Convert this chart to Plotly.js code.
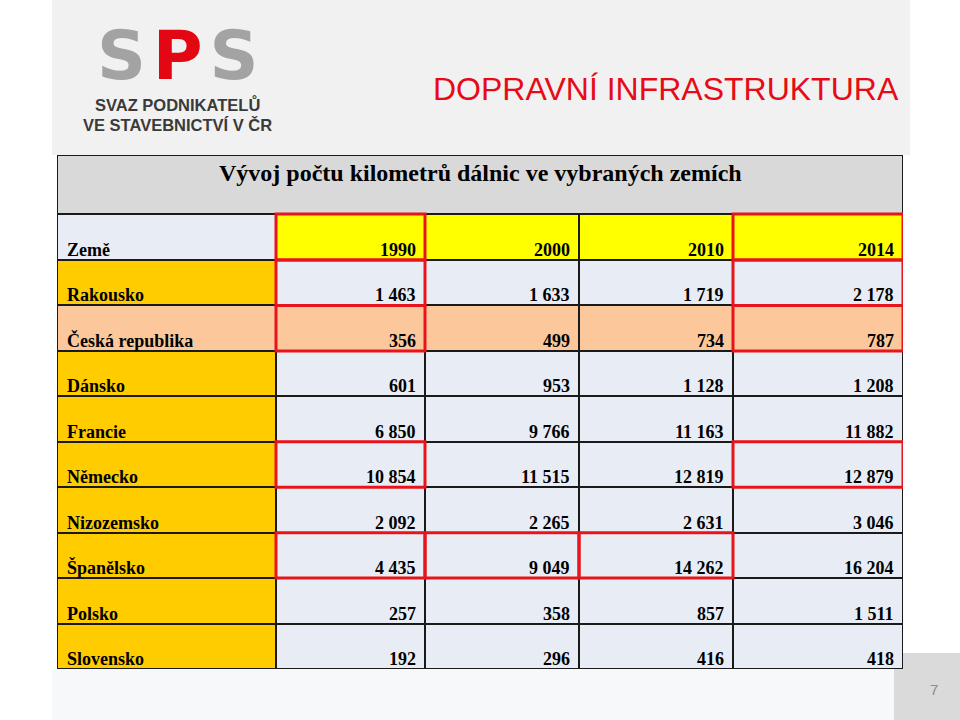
<!DOCTYPE html>
<html><head><meta charset="utf-8">
<script src="https://cdn.plot.ly/plotly-3.0.1.min.js"></script>
<style>html,body{margin:0;padding:0;background:#fff}#chart{width:960px;height:720px}</style>
</head><body><div id="chart"></div>
<script>
// ---------- data ----------
const countries = ["Rakousko","Česká republika","Dánsko","Francie","Německo","Nizozemsko","Španělsko","Polsko","Slovensko"];
const years = ["1990","2000","2010","2014"];
const km1990 = [1463, 356, 601, 6850, 10854, 2092, 4435, 257, 192];
const km2000 = [1633, 499, 953, 9766, 11515, 2265, 9049, 358, 296];
const km2010 = [1719, 734, 1128, 11163, 12819, 2631, 14262, 857, 416];
const km2014 = [2178, 787, 1208, 11882, 12879, 3046, 16204, 1511, 418];
const headerLabel = "Země";
const tableTitle = "Vývoj počtu kilometrů dálnic ve vybraných zemích";
const slideTitle = "DOPRAVNÍ INFRASTRUKTURA";
const orgLine1 = "SVAZ PODNIKATELŮ";
const orgLine2 = "VE STAVEBNICTVÍ V ČR";
const pageNumber = "7";
const emphasisCountry = "Česká republika";
// highlighted cells: [table row (0 = header row), year index]
const highlighted = [[0,0],[1,0],[2,0],[0,3],[1,3],[2,3],[5,0],[5,3],[7,0],[7,1],[7,2]];

// ---------- layout constants ----------
const L = 57, R = 903, T = 155, B = 669;
const colWidths = [219, 149, 154, 154, 170];
const titleH = 59, headerH = 46;
const series = [km1990, km2000, km2010, km2014];

const xEdges = [0];
colWidths.forEach(w => xEdges.push(xEdges[xEdges.length-1] + w));
const totalW = xEdges[xEdges.length-1];
const totalH = B - T;
const rowH = (totalH - titleH - headerH) / countries.length;
const yEdges = [titleH, titleH + headerH];
countries.forEach(() => yEdges.push(yEdges[yEdges.length-1] + rowH));

const fx = px => (px - L) / (R - L);
const fy = py => 1 - (py - T) / (B - T);

const fmt = v => String(v).replace(/\B(?=(\d{3})+(?!\d))/g, "\u00a0");

// colour codes: 0 light cell, 1 gold, 2 yellow, 3 peach
const cLight = '#e8edf5', cGold = '#ffcc00', cYellow = '#ffff00', cPeach = '#fcc89b';
const z = [[0, 2, 2, 2, 2]];
countries.forEach(c => {
  if (c === emphasisCountry) z.push([3,3,3,3,3]);
  else z.push([1,0,0,0,0]);
});

const traces = [
  { type:'heatmap', x:[0, totalW], y:[0, titleH], z:[[0]], zmin:0, zmax:1,
    colorscale:[[0,'#d9d9d9'],[1,'#d9d9d9']], showscale:false, hoverinfo:'skip', ygap:2 },
  { type:'heatmap', x:xEdges, y:yEdges, z:z, zmin:0, zmax:3,
    colorscale:[[0,cLight],[1/6,cLight],[1/6,cGold],[0.5,cGold],[0.5,cYellow],[5/6,cYellow],[5/6,cPeach],[1,cPeach]],
    showscale:false, hoverinfo:'skip', xgap:2, ygap:2 }
];

const cellFont = {family:'Liberation Serif, Times New Roman, serif', size:18, color:'#000'};
const annotations = [];
function cellText(text, row, col) {
  const bottom = Math.min(yEdges[row+1], totalH) - 0.01;
  const left = col === 0;
  annotations.push({
    xref:'x', yref:'y', x: left ? xEdges[col] + 8 : xEdges[col+1] - 7, y: bottom,
    xanchor: left ? 'left' : 'right', yanchor:'bottom', yshift:-2,
    text:'<b>' + text + '</b>', showarrow:false, font:cellFont
  });
}
cellText(headerLabel, 0, 0);
years.forEach((yr, j) => cellText(yr, 0, j+1));
countries.forEach((c, i) => {
  cellText(c, i+1, 0);
  series.forEach((s, j) => cellText(fmt(s[i]), i+1, j+1));
});

annotations.push({
  xref:'paper', yref:'y', x:fx(480), y:(titleH)/2 - 12, xanchor:'center', yanchor:'middle',
  text:'<b>' + tableTitle + '</b>', showarrow:false,
  font:{family:'Liberation Serif, Times New Roman, serif', size:24, color:'#000'}
});
annotations.push({
  xref:'paper', yref:'paper', x:fx(901), y:fy(89), xanchor:'right', yanchor:'middle',
  text:slideTitle, showarrow:false,
  font:{family:'Liberation Sans, Arial, sans-serif', size:32, color:'#e60b16'}
});
annotations.push({
  xref:'paper', yref:'paper', x:fx(177), y:fy(55), xanchor:'center', yanchor:'middle',
  text:'<b><span style="color:#a3a3a3">S</span>\u200a<span style="color:#e30613">P</span>\u200a<span style="color:#a3a3a3">S</span></b>',
  showarrow:false, font:{family:'DejaVu Sans, sans-serif', size:68, color:'#a3a3a3'}
});
annotations.push({
  xref:'paper', yref:'paper', x:fx(177), y:fy(105), xanchor:'center', yanchor:'middle',
  text:'<b>' + orgLine1 + '</b>', showarrow:false,
  font:{family:'Liberation Sans, Arial, sans-serif', size:16.5, color:'#3a3a3a'}
});
annotations.push({
  xref:'paper', yref:'paper', x:fx(177), y:fy(125), xanchor:'center', yanchor:'middle',
  text:'<b>' + orgLine2 + '</b>', showarrow:false,
  font:{family:'Liberation Sans, Arial, sans-serif', size:16.5, color:'#3a3a3a'}
});
annotations.push({
  xref:'paper', yref:'paper', x:fx(934), y:fy(689), xanchor:'center', yanchor:'middle',
  text:pageNumber, showarrow:false,
  font:{family:'Liberation Sans, Arial, sans-serif', size:15, color:'#8c8c8c'}
});

const shapes = [
  {type:'rect', xref:'paper', yref:'paper', x0:fx(52), x1:fx(910), y0:fy(0), y1:fy(155), fillcolor:'#f1f1f1', line:{width:0}, layer:'below'},
  {type:'rect', xref:'paper', yref:'paper', x0:fx(52), x1:fx(910), y0:fy(669), y1:fy(720), fillcolor:'#f7f8fa', line:{width:0}, layer:'below'},
  {type:'rect', xref:'paper', yref:'paper', x0:fx(894), x1:fx(960), y0:fy(653), y1:fy(720), fillcolor:'#dadada', line:{width:0}, layer:'below'},
  {type:'rect', xref:'x', yref:'y', x0:0, x1:totalW, y0:0, y1:totalH, line:{color:'#1a1a1a', width:2}}
];
highlighted.forEach(([r, j]) => {
  shapes.push({type:'rect', xref:'x', yref:'y', x0:xEdges[j+1], x1:xEdges[j+2], y0:yEdges[r], y1:yEdges[r+1],
    line:{color:'#e8141c', width:3}});
});

const axisBase = {showgrid:false, zeroline:false, showticklabels:false, ticks:'', showline:false, fixedrange:true};
const layout = {
  width:960, height:720,
  margin:{l:L, r:960-R, t:T, b:720-B, pad:0},
  paper_bgcolor:'#ffffff', plot_bgcolor:'#1a1a1a',
  xaxis:Object.assign({range:[0, totalW]}, axisBase),
  yaxis:Object.assign({range:[totalH, 0]}, axisBase),
  showlegend:false, annotations, shapes
};
Plotly.newPlot('chart', traces, layout, {displayModeBar:false, staticPlot:true});
</script></body></html>
